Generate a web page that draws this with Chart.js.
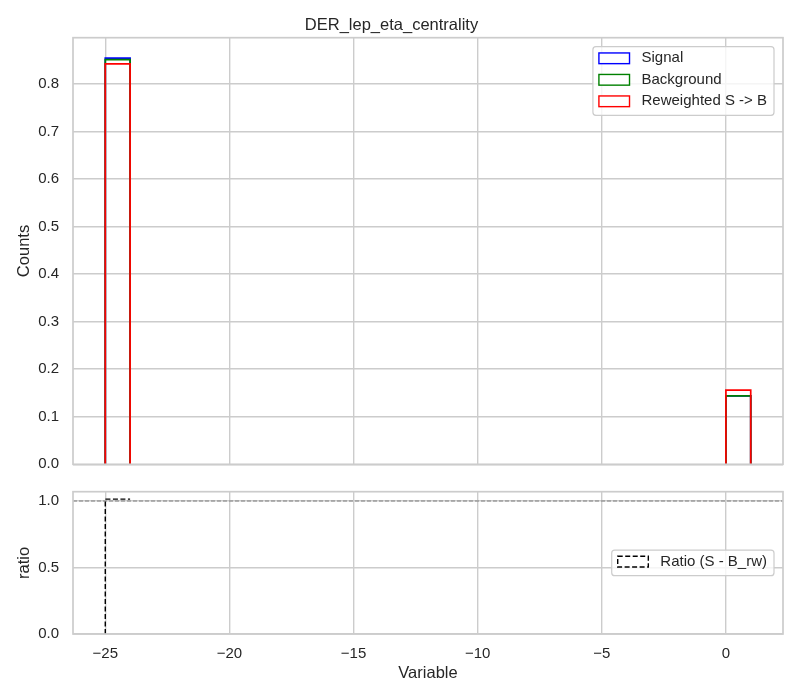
<!DOCTYPE html>
<html>
<head>
<meta charset="utf-8">
<script src="https://cdn.jsdelivr.net/npm/chart.js@4.4.0/dist/chart.umd.min.js"></script>
<style>
  html, body { margin: 0; padding: 0; background: #ffffff; }
  #wrap { position: relative; width: 800px; height: 700px; }
  canvas { position: absolute; left: 0; }
  #main-chart { top: 0; }
  #ratio-chart { top: 478px; }
</style>
</head>
<body>
<div id="wrap">
  <canvas id="main-chart" width="800" height="478"></canvas>
  <canvas id="ratio-chart" width="800" height="222"></canvas>
</div>
<script>
// bin edges of the histogram (width 1, -25 .. 1)
const binEdges = [
  -25, -24, -23, -22, -21, -20, -19, -18, -17, -16, -15, -14, -13, -12,
  -11, -10, -9, -8, -7, -6, -5, -4, -3, -2, -1, 0, 1,
];
const signalCounts = [
  0.854, 0, 0, 0, 0, 0, 0, 0, 0, 0, 0, 0, 0, 0, 0, 0, 0, 0, 0, 0, 0, 0, 0, 0, 0, 0.144,
];
const backgroundCounts = [
  0.851, 0, 0, 0, 0, 0, 0, 0, 0, 0, 0, 0, 0, 0, 0, 0, 0, 0, 0, 0, 0, 0, 0, 0, 0, 0.144,
];
const reweightedCounts = [
  0.842, 0, 0, 0, 0, 0, 0, 0, 0, 0, 0, 0, 0, 0, 0, 0, 0, 0, 0, 0, 0, 0, 0, 0, 0, 0.156,
];
const ratioValues = [
  1.014, null, null, null, null, null, null, null, null, null, null, null, null,
  null, null, null, null, null, null, null, null, null, null, null, null, null,
];
const xTicks = [-25, -20, -15, -10, -5, 0];
const mainYTicks = [0, 0.1, 0.2, 0.3, 0.4, 0.5, 0.6, 0.7, 0.8];
const ratioYTicks = [0, 0.5, 1.0];
const ratioReference = 1;

const xMin = -26.3;
const xMax = 2.3;
const fontFamily = "'Liberation Sans', Arial, sans-serif";
const textColor = "#262626";
const gridColor = "#cccccc";

Chart.defaults.font.family = fontFamily;
Chart.defaults.color = textColor;

// outline of every non-empty bin (the empty ones sit on the spine)
function histPoints(edges, counts) {
  const pts = [];
  counts.forEach((c, i) => {
    if (!c) return;
    pts.push({ x: edges[i], y: 0 });
    pts.push({ x: edges[i], y: c });
    pts.push({ x: edges[i + 1], y: c });
    pts.push({ x: edges[i + 1], y: 0 });
    pts.push({ x: edges[i + 1], y: null });
  });
  return pts;
}

function ratioPoints(edges, values) {
  const pts = [];
  let open = false;
  values.forEach((v, i) => {
    if (v === null) {
      if (open) {
        pts.push({ x: edges[i], y: null });
        open = false;
      }
      return;
    }
    if (!open) {
      pts.push({ x: edges[i], y: 0 });
      open = true;
    }
    pts.push({ x: edges[i], y: v });
    pts.push({ x: edges[i + 1], y: v });
  });
  return pts;
}

function fixedTicks(values) {
  return (scale) => {
    scale.ticks = values.map((v) => ({ value: v }));
  };
}

// fixed axis size, no extra label overhang padding
function fixedSize(key, size) {
  return (scale) => {
    scale[key] = size;
    scale.paddingTop = 0;
    scale.paddingBottom = 0;
    scale.paddingLeft = 0;
    scale.paddingRight = 0;
  };
}

function fmtMinus(v) {
  return String(v).replace("-", "\u2212");
}

// box around the plot area (all four spines)
const framePlugin = {
  id: "frame",
  afterDatasetsDraw(chart) {
    const { ctx, chartArea: a } = chart;
    ctx.save();
    ctx.strokeStyle = gridColor;
    ctx.lineWidth = 1.7;
    ctx.strokeRect(a.left, a.top, a.right - a.left, a.bottom - a.top);
    ctx.restore();
  },
};

// matplotlib-like legend inside the axes
const boxLegendPlugin = {
  id: "boxLegend",
  afterDraw(chart, _args, opts) {
    const items = chart.data.datasets.filter((d) => d.label);
    if (!items.length) return;
    const { ctx, chartArea: a } = chart;
    const fontSize = 15;
    const padL = 6;
    const patchW = 30.6;
    const patchH = 10.7;
    const gap = 12;
    const padR = 7;
    const rowH = 21.5;
    ctx.save();
    ctx.font = `${fontSize}px ${fontFamily}`;
    const textW = Math.max(...items.map((d) => ctx.measureText(d.label).width));
    const w = padL + patchW + gap + textW + padR;
    const h = 11.6 + (items.length - 1) * rowH + 14;
    const left = a.right - 9 - w;
    const top = opts.anchor === "center" ? (a.top + a.bottom) / 2 - h / 2 : a.top + 9;

    ctx.beginPath();
    ctx.roundRect(left, top, w, h, 3);
    ctx.fillStyle = "rgba(255, 255, 255, 0.8)";
    ctx.fill();
    ctx.strokeStyle = gridColor;
    ctx.lineWidth = 1.2;
    ctx.stroke();

    items.forEach((d, i) => {
      const cy = top + 11.6 + i * rowH;
      ctx.fillStyle = "#ffffff";
      ctx.fillRect(left + padL, cy - patchH / 2, patchW, patchH);
      ctx.strokeStyle = d.borderColor;
      ctx.lineWidth = 1.4;
      ctx.setLineDash(d.borderDash || []);
      ctx.strokeRect(left + padL, cy - patchH / 2, patchW, patchH);
      ctx.setLineDash([]);
      ctx.fillStyle = textColor;
      ctx.textBaseline = "middle";
      ctx.textAlign = "left";
      ctx.fillText(d.label, left + padL + patchW + gap, cy);
    });
    ctx.restore();
  },
};

function stepDataset(label, color, points, order) {
  return {
    label,
    data: points,
    borderColor: color,
    borderWidth: 1.7,
    pointRadius: 0,
    tension: 0,
    fill: false,
    spanGaps: false,
    order,
  };
}

const mainChart = new Chart(document.querySelector("#main-chart"), {
  type: "line",
  data: {
    datasets: [
      stepDataset("Signal", "#0000ff", histPoints(binEdges, signalCounts), 3),
      stepDataset("Background", "#008000", histPoints(binEdges, backgroundCounts), 2),
      stepDataset("Reweighted S -> B", "#ff0000", histPoints(binEdges, reweightedCounts), 1),
    ],
  },
  options: {
    responsive: false,
    animation: false,
    layout: { padding: { left: 0, right: 17, top: 0, bottom: 0 } },
    plugins: {
      legend: { display: false },
      tooltip: { enabled: false },
      title: {
        display: true,
        text: "DER_lep_eta_centrality",
        color: textColor,
        font: { size: 16.5, weight: "normal" },
        padding: { top: 15.3, bottom: 2.6 },
      },
      boxLegend: { anchor: "top" },
    },
    scales: {
      x: {
        type: "linear",
        min: xMin,
        max: xMax,
        afterBuildTicks: fixedTicks(xTicks),
        afterFit: fixedSize("height", 13.7),
        ticks: { display: false },
        grid: { color: gridColor, lineWidth: 1.4, drawTicks: false },
        border: { display: false },
      },
      y: {
        min: 0,
        max: 0.897,
        afterBuildTicks: fixedTicks(mainYTicks),
        afterFit: fixedSize("width", 73),
        ticks: {
          padding: 14,
          color: textColor,
          font: { size: 15 },
          callback: (v) => Number(v).toFixed(1),
        },
        grid: { color: gridColor, lineWidth: 1.4, drawTicks: false },
        border: { display: false },
        title: {
          display: true,
          text: "Counts",
          color: textColor,
          font: { size: 16.5 },
          padding: { top: 15, bottom: 0 },
        },
      },
    },
  },
  plugins: [framePlugin, boxLegendPlugin],
});

const ratioChart = new Chart(document.querySelector("#ratio-chart"), {
  type: "line",
  data: {
    datasets: [
      {
        label: "Ratio (S - B_rw)",
        data: ratioPoints(binEdges, ratioValues),
        borderColor: "#000000",
        borderWidth: 1.4,
        borderDash: [5, 2.5],
        pointRadius: 0,
        tension: 0,
        fill: false,
        spanGaps: false,
        order: 1,
      },
      {
        data: [
          { x: xMin, y: ratioReference },
          { x: xMax, y: ratioReference },
        ],
        borderColor: "#808080",
        borderWidth: 1.2,
        borderDash: [4, 2],
        pointRadius: 0,
        fill: false,
        order: 2,
      },
    ],
  },
  options: {
    responsive: false,
    animation: false,
    layout: { padding: { left: 0, right: 17, top: 13.7, bottom: 0 } },
    plugins: {
      legend: { display: false },
      tooltip: { enabled: false },
      boxLegend: { anchor: "center" },
    },
    scales: {
      x: {
        type: "linear",
        min: xMin,
        max: xMax,
        afterBuildTicks: fixedTicks(xTicks),
        afterFit: fixedSize("height", 66),
        ticks: {
          padding: 11,
          color: textColor,
          font: { size: 15 },
          callback: (v) => fmtMinus(v),
        },
        grid: { color: gridColor, lineWidth: 1.4, drawTicks: false },
        border: { display: false },
        title: {
          display: true,
          text: "Variable",
          color: textColor,
          font: { size: 16.5 },
          padding: { top: 0, bottom: 17 },
        },
      },
      y: {
        min: 0,
        max: 1.07,
        afterBuildTicks: fixedTicks(ratioYTicks),
        afterFit: fixedSize("width", 73),
        ticks: {
          padding: 14,
          color: textColor,
          font: { size: 15 },
          callback: (v) => Number(v).toFixed(1),
        },
        grid: { color: gridColor, lineWidth: 1.4, drawTicks: false },
        border: { display: false },
        title: {
          display: true,
          text: "ratio",
          color: textColor,
          font: { size: 16.5 },
          padding: { top: 15, bottom: 0 },
        },
      },
    },
  },
  plugins: [framePlugin, boxLegendPlugin],
});
</script>
</body>
</html>
